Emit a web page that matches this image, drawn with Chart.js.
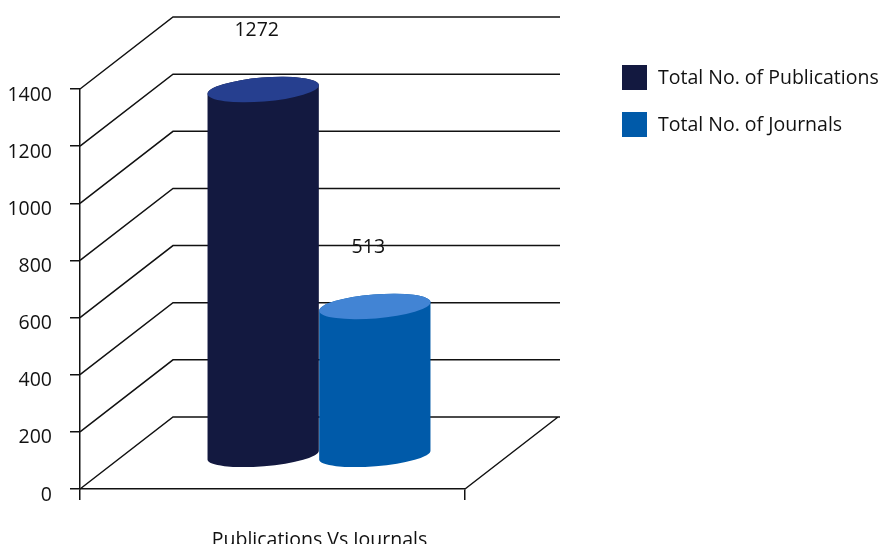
<!DOCTYPE html>
<html lang="en">
<head>
  <meta charset="UTF-8" />
  <title>Publications Vs Journals</title>
  <script src="https://cdn.jsdelivr.net/npm/chart.js"></script>
  <style>
    html, body { margin: 0; padding: 0; background: #fff; }
    canvas { display: block; }
  </style>
</head>
<body>
  <canvas id="chart" width="888" height="544"></canvas>
  <script>
    const categories = ['Publications Vs Journals'];
    const seriesNames = ['Total No. of Publications', 'Total No. of Journals'];
    const publications = [1272];
    const journals = [513];
    const yTicks = [0, 200, 400, 600, 800, 1000, 1200, 1400];

    const bodyColors = ['#131940', '#005aa9'];
    const topColors = ['#263f8f', '#4284d4'];
    const FONT = { family: "'Open Sans', sans-serif", size: 19.5 };
    const INK = '#111';
    // depth of the fake 3D box
    const DX = 93, DY = 72;

    const threeD = {
      id: 'threeD',
      beforeDatasetsDraw(chart) {
        const { ctx, chartArea: area } = chart;
        const y = chart.scales.y;
        ctx.save();
        ctx.strokeStyle = INK;
        ctx.lineWidth = 1.5;
        ctx.beginPath();
        yTicks.forEach(v => {
          const py = y.getPixelForValue(v);
          ctx.moveTo(area.left, py);
          ctx.lineTo(area.left + DX, py - DY);
          ctx.lineTo(area.right + DX + 2, py - DY);
        });
        // right edge of the floor
        ctx.moveTo(area.right, area.bottom);
        ctx.lineTo(area.right + DX, area.bottom - DY);
        ctx.stroke();
        ctx.restore();
      },
      beforeDatasetDraw() {
        return false;
      },
      afterDatasetsDraw(chart) {
        const { ctx } = chart;
        const rot = -0.08;
        chart.data.datasets.forEach((ds, i) => {
          const meta = chart.getDatasetMeta(i);
          meta.data.forEach((el, j) => {
            const p = el.getProps(['x', 'y', 'base', 'width'], true);
            const cx = p.x + DX / 2;
            const top = p.y - DY / 2;
            const bot = p.base - DY / 2 + 3;
            const rx = p.width / 2;
            ctx.save();
            ctx.fillStyle = bodyColors[i];
            ctx.beginPath();
            ctx.ellipse(cx, bot, rx, 11, rot, Math.PI, 0, true);
            ctx.ellipse(cx, top, rx, 12, rot, 0, -Math.PI, true);
            ctx.closePath();
            ctx.fill();
            ctx.fillStyle = topColors[i];
            ctx.beginPath();
            ctx.ellipse(cx, top, rx, 12, rot, 0, Math.PI * 2);
            ctx.fill();
            // value label
            ctx.fillStyle = INK;
            ctx.font = FONT.size + 'px ' + FONT.family;
            ctx.textAlign = 'center';
            ctx.textBaseline = 'middle';
            ctx.fillText(String(ds.data[j]), p.x + 40, p.y - DY - 23);
            ctx.restore();
          });
        });
      },
      afterDraw(chart) {
        const { ctx } = chart;
        ctx.save();
        ctx.font = FONT.size + 'px ' + FONT.family;
        ctx.textBaseline = 'middle';
        ctx.textAlign = 'left';
        chart.data.datasets.forEach((ds, i) => {
          const yy = 65 + i * 47;
          ctx.fillStyle = bodyColors[i];
          ctx.fillRect(622, yy, 25, 25);
          ctx.fillStyle = INK;
          ctx.fillText(ds.label, 658, yy + 13);
        });
        ctx.restore();
      }
    };

    new Chart(document.getElementById('chart'), {
      type: 'bar',
      data: {
        labels: categories,
        datasets: [
          { label: seriesNames[0], data: publications, backgroundColor: bodyColors[0] },
          { label: seriesNames[1], data: journals, backgroundColor: bodyColors[1] }
        ]
      },
      options: {
        responsive: false,
        animation: false,
        events: [],
        layout: { padding: { top: 89, right: 423, left: 0, bottom: 0 } },
        datasets: { bar: { categoryPercentage: 0.58, barPercentage: 1.0 } },
        plugins: {
          legend: { display: false },
          tooltip: { enabled: false }
        },
        scales: {
          x: {
            offset: true,
            grid: { offset: true, drawOnChartArea: false, tickLength: 11, color: INK, lineWidth: 1.5 },
            border: { display: true, color: INK, width: 1.5 },
            ticks: { font: FONT, color: INK, padding: 29, labelOffset: 47, autoSkip: false, maxRotation: 0 },
            afterFit(scale) { scale.height = 55; }
          },
          y: {
            min: 0,
            max: 1400,
            afterBuildTicks(scale) { scale.ticks = yTicks.map(v => ({ value: v })); },
            grid: { drawOnChartArea: false, tickLength: 10, color: INK, lineWidth: 1.5 },
            border: { display: true, color: INK, width: 1.5 },
            ticks: { font: FONT, color: INK, padding: 18, labelOffset: 6, autoSkip: false, callback: v => String(v) },
            afterFit(scale) { scale.width = 80; }
          }
        }
      },
      plugins: [threeD]
    });
  </script>
</body>
</html>
